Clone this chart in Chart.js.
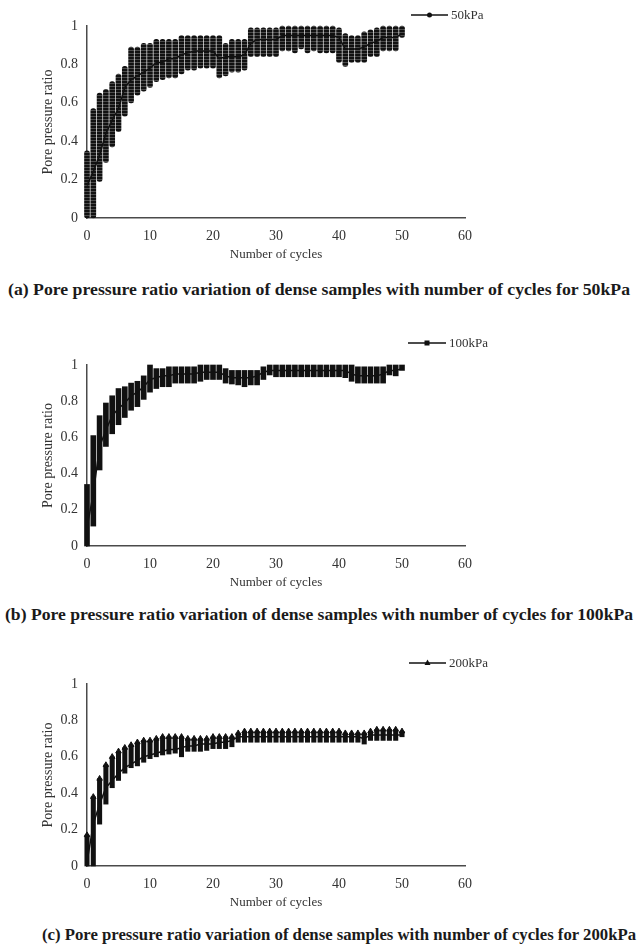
<!DOCTYPE html>
<html>
<head>
<meta charset="utf-8">
<script src="https://cdn.jsdelivr.net/npm/chart.js@4.4.0/dist/chart.umd.min.js"></script>
<style>
body{margin:0;background:#fff;width:637px;height:947px;position:relative;overflow:hidden;font-family:"Liberation Serif","Times New Roman",serif;}
.panel{position:absolute;left:0;width:637px;}
.cap{position:absolute;font-weight:bold;font-size:17px;line-height:1;white-space:nowrap;color:#1a1a1a;transform-origin:0 0;}
</style>
</head>
<body>
<div class="panel" style="top:0;height:266px"><canvas id="c50"></canvas></div>
<div class="cap" data-w="622" style="left:8px;top:281px">(a) Pore pressure ratio variation of dense samples with number of cycles for 50kPa</div>
<div class="panel" style="top:320px;height:274px"><canvas id="c100"></canvas></div>
<div class="cap" data-w="628" style="left:5px;top:606px">(b) Pore pressure ratio variation of dense samples with number of cycles for 100kPa</div>
<div class="panel" style="top:640px;height:274px"><canvas id="c200"></canvas></div>
<div class="cap" data-w="594" style="left:42px;top:926px">(c) Pore pressure ratio variation of dense samples with number of cycles for 200kPa</div>
<script>
var cycles = [0,1,2,3,4,5,6,7,8,9,10,11,12,13,14,15,16,17,18,19,20,21,22,23,24,25,26,27,28,29,30,31,32,33,34,35,36,37,38,39,40,41,42,43,44,45,46,47,48,49,50];
var xTicks = [0,10,20,30,40,50,60];
var yTicks = [0,0.2,0.4,0.6,0.8,1];

// 50kPa: top / bottom of each cycle's column and the connecting line
var hi50 = [0.35,0.57,0.65,0.67,0.71,0.75,0.79,0.89,0.89,0.91,0.91,0.93,0.93,0.93,0.93,0.95,0.95,0.95,0.95,0.95,0.95,0.95,0.91,0.93,0.93,0.93,0.99,0.99,0.99,0.99,0.99,1,1,1,1,1,1,1,1,1,0.99,0.96,0.95,0.95,0.97,0.98,0.99,1,1,1,1];
var lo50 = [0,0,0.19,0.29,0.37,0.45,0.53,0.6,0.64,0.66,0.68,0.71,0.72,0.73,0.73,0.75,0.77,0.77,0.78,0.78,0.78,0.73,0.74,0.76,0.76,0.77,0.84,0.84,0.84,0.84,0.84,0.87,0.87,0.86,0.88,0.86,0.87,0.86,0.86,0.86,0.81,0.79,0.81,0.81,0.81,0.84,0.84,0.87,0.87,0.87,0.94];
var mid50 = [0.17,0.24,0.33,0.44,0.51,0.57,0.68,0.72,0.74,0.76,0.78,0.81,0.81,0.83,0.83,0.85,0.86,0.87,0.87,0.87,0.87,0.83,0.84,0.84,0.84,0.85,0.91,0.93,0.93,0.93,0.93,0.95,0.95,0.95,0.95,0.95,0.95,0.95,0.95,0.95,0.94,0.88,0.88,0.88,0.89,0.91,0.92,0.94,0.94,0.94,0.96];

// 100kPa
var hi100 = [0.34,0.61,0.72,0.79,0.83,0.87,0.88,0.9,0.91,0.94,1,0.98,0.98,0.99,0.99,0.99,0.99,0.99,1,1,1,1,0.98,0.97,0.97,0.97,0.97,0.97,0.99,1,1,1,1,1,1,1,1,1,1,1,1,1,1,0.99,0.99,0.99,0.99,0.99,1,1,1];
var lo100 = [0,0.11,0.42,0.55,0.62,0.67,0.71,0.75,0.77,0.81,0.85,0.87,0.88,0.88,0.9,0.9,0.9,0.9,0.91,0.92,0.92,0.92,0.9,0.895,0.89,0.88,0.89,0.89,0.92,0.945,0.935,0.935,0.935,0.935,0.935,0.935,0.935,0.935,0.935,0.935,0.935,0.93,0.91,0.9,0.9,0.9,0.9,0.9,0.945,0.94,0.97];
var mid100 = [0.1,0.29,0.55,0.64,0.72,0.76,0.79,0.83,0.85,0.88,0.92,0.93,0.94,0.94,0.95,0.95,0.95,0.95,0.96,0.96,0.96,0.96,0.94,0.93,0.93,0.93,0.93,0.94,0.96,0.97,0.97,0.97,0.97,0.97,0.97,0.97,0.97,0.97,0.97,0.97,0.97,0.97,0.95,0.94,0.94,0.94,0.94,0.95,0.97,0.97,0.98];

// 200kPa
var hi200 = [0.17,0.38,0.48,0.555,0.6,0.63,0.65,0.665,0.68,0.69,0.69,0.7,0.71,0.71,0.71,0.71,0.7,0.7,0.7,0.7,0.71,0.71,0.71,0.71,0.73,0.74,0.74,0.74,0.74,0.74,0.74,0.74,0.74,0.74,0.74,0.74,0.74,0.74,0.74,0.74,0.74,0.73,0.73,0.73,0.73,0.74,0.75,0.75,0.75,0.75,0.74];
var lo200 = [0,0,0.23,0.34,0.43,0.47,0.51,0.54,0.55,0.57,0.59,0.6,0.61,0.615,0.62,0.6,0.63,0.63,0.63,0.635,0.645,0.645,0.645,0.655,0.68,0.68,0.68,0.68,0.68,0.68,0.68,0.68,0.68,0.68,0.68,0.68,0.68,0.68,0.68,0.68,0.68,0.68,0.68,0.68,0.67,0.69,0.69,0.69,0.69,0.69,0.71];
var mid200 = [0.02,0.23,0.34,0.43,0.47,0.51,0.54,0.56,0.58,0.6,0.61,0.62,0.63,0.64,0.64,0.65,0.66,0.66,0.67,0.67,0.67,0.68,0.68,0.69,0.71,0.71,0.71,0.71,0.71,0.71,0.71,0.71,0.71,0.71,0.71,0.71,0.71,0.71,0.71,0.71,0.71,0.71,0.71,0.71,0.7,0.72,0.72,0.72,0.72,0.72,0.72];

var ink = '#111';
var axisCol = '#4a4a4a';
var txtCol = '#333';
var serif = '"Liberation Serif", "Times New Roman", serif';

// draws the little "line + marker + name" legend
var legendMark = {
    id: 'legendMark',
    afterDraw: function(chart, args, o) {
        var ctx = chart.ctx;
        ctx.save();
        ctx.strokeStyle = ink;
        ctx.lineWidth = 1.5;
        ctx.beginPath();
        ctx.moveTo(o.x1, o.y);
        ctx.lineTo(o.x2, o.y);
        ctx.stroke();
        var cx = (o.x1 + o.x2) / 2;
        ctx.fillStyle = ink;
        ctx.beginPath();
        if (o.marker == 'circle') {
            ctx.arc(cx, o.y, 2.5, 0, Math.PI * 2);
        } else if (o.marker == 'rect') {
            ctx.rect(cx - 2.5, o.y - 2.5, 5, 5);
        } else {
            ctx.moveTo(cx, o.y - 3.5);
            ctx.lineTo(cx + 3, o.y + 2);
            ctx.lineTo(cx - 3, o.y + 2);
            ctx.closePath();
        }
        ctx.fill();
        ctx.fillStyle = txtCol;
        ctx.font = '13px ' + serif;
        ctx.textBaseline = 'middle';
        ctx.fillText(o.text, o.x2 + 3, o.y + 1);
        ctx.restore();
    }
};

function toRange(lo, hi) {
    return cycles.map(function(c, i) { return {x: c, y: [lo[i], hi[i]]}; });
}
function toPoints(v) {
    return cycles.map(function(c, i) { return {x: c, y: v[i]}; });
}

// stacked-dot look of the 50kPa columns
function dotFill(ctx) {
    var p = document.createElement('canvas');
    p.width = 4; p.height = 3;
    var g = p.getContext('2d');
    g.fillStyle = ink; g.fillRect(0, 0, 4, 3);
    g.fillStyle = '#4c4c4c'; g.fillRect(0, 2, 4, 1);
    return ctx.createPattern(p, 'repeat');
}

function makeChart(id, lo, hi, mid, cfg) {
    var canvas = document.getElementById(id);
    var ctx = canvas.getContext('2d');
    var datasets = [
        {
            type: 'bar',
            data: toRange(lo, hi),
            backgroundColor: cfg.dotted ? dotFill(ctx) : ink,
            barThickness: cfg.barW,
            borderRadius: cfg.dotted ? 2.5 : 0,
            borderSkipped: false,
            clip: false,
            order: 2
        },
        {
            type: 'line',
            data: toPoints(mid),
            borderColor: ink,
            borderWidth: 1.5,
            pointRadius: 0,
            clip: false,
            order: 1
        }
    ];
    if (cfg.marker == 'triangle') {
        datasets.push({
            type: 'scatter',
            data: toPoints(hi),
            pointStyle: 'triangle',
            pointRadius: 3.2,
            backgroundColor: ink,
            borderColor: ink,
            borderWidth: 1,
            clip: false,
            order: 0
        });
    }
    return new Chart(ctx, {
        type: 'bar',
        data: {datasets: datasets},
        options: {
            responsive: true,
            maintainAspectRatio: false,
            animation: false,
            layout: {padding: {left: 36, top: cfg.top, right: 172, bottom: 0}},
            plugins: {
                legend: {display: false},
                tooltip: {enabled: false},
                legendMark: cfg.legend
            },
            scales: {
                x: {
                    type: 'linear',
                    min: 0, max: 60,
                    offset: false,
                    afterBuildTicks: function(s) { s.ticks = xTicks.map(function(v) { return {value: v}; }); },
                    afterFit: function(s) { s.height = 48; },
                    grid: {display: false, drawTicks: false},
                    border: {display: true, color: axisCol, width: 1.5},
                    ticks: {color: txtCol, padding: 10, maxRotation: 0, font: {family: serif, size: 14},
                        callback: function(v) { return String(v); }},
                    title: {display: true, text: 'Number of cycles', color: txtCol, font: {family: serif, size: 13}}
                },
                y: {
                    min: 0, max: 1,
                    afterBuildTicks: function(s) { s.ticks = yTicks.map(function(v) { return {value: v}; }); },
                    afterFit: function(s) { s.width = 51; },
                    grid: {display: false, drawTicks: false},
                    border: {display: true, color: axisCol, width: 1.5},
                    ticks: {color: txtCol, padding: 9, font: {family: serif, size: 14},
                        callback: function(v) { return String(Math.round(v * 10) / 10); }},
                    title: {display: true, text: 'Pore pressure ratio', color: txtCol, font: {family: serif, size: 14}}
                }
            }
        },
        plugins: [legendMark]
    });
}

makeChart('c50', lo50, hi50, mid50, {top: 26, dotted: true, barW: 5, marker: 'circle',
    legend: {x1: 411, x2: 448, y: 15, text: '50kPa', marker: 'circle'}});
makeChart('c100', lo100, hi100, mid100, {top: 45, dotted: false, barW: 5, marker: 'rect',
    legend: {x1: 408, x2: 446, y: 23, text: '100kPa', marker: 'rect'}});
makeChart('c200', lo200, hi200, mid200, {top: 44, dotted: false, barW: 4.4, marker: 'triangle',
    legend: {x1: 409, x2: 446, y: 23, text: '200kPa', marker: 'triangle'}});

// squeeze the captions to the printed width
var caps = document.querySelectorAll('.cap');
for (var i = 0; i < caps.length; i++) {
    var w = caps[i].getBoundingClientRect().width;
    var target = parseFloat(caps[i].getAttribute('data-w'));
    caps[i].style.transform = 'scaleX(' + (target / w) + ')';
}
</script>
</body>
</html>
